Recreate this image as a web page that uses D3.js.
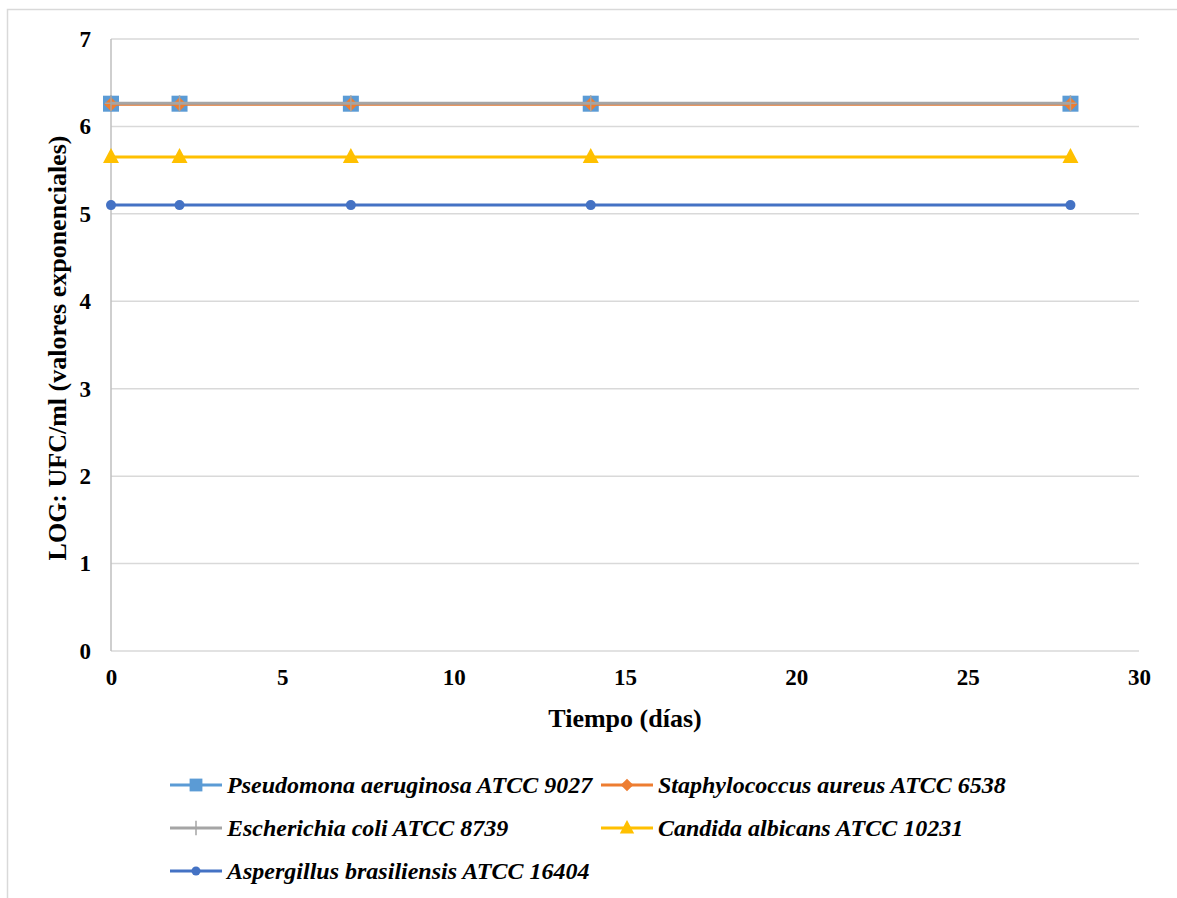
<!DOCTYPE html>
<html><head><meta charset="utf-8">
<script src="https://cdn.jsdelivr.net/npm/d3@7"></script>
<style>body{margin:0;background:#fff}svg{display:block}</style>
</head><body>
<svg id="c" width="1177" height="898"></svg>
<script>
const days = [0, 2, 7, 14, 28];
const pseudomona = [6.26, 6.26, 6.26, 6.26, 6.26];
const staphylococcus = [6.255, 6.255, 6.255, 6.255, 6.255];
const escherichia = [6.265, 6.265, 6.265, 6.265, 6.265];
const candida = [5.65, 5.65, 5.65, 5.65, 5.65];
const aspergillus = [5.10, 5.10, 5.10, 5.10, 5.10];
const xTicks = [0, 5, 10, 15, 20, 25, 30];
const yTicks = [0, 1, 2, 3, 4, 5, 6, 7];
const seriesNames = ["Pseudomona aeruginosa ATCC 9027", "Staphylococcus aureus ATCC 6538",
  "Escherichia coli ATCC 8739", "Candida albicans ATCC 10231", "Aspergillus brasiliensis ATCC 16404"];
const seriesValues = [pseudomona, staphylococcus, escherichia, candida, aspergillus];
const colors = ["#5b9bd5", "#ed7d31", "#a5a5a5", "#ffc000", "#4472c4"];
const markers = ["square", "diamond", "plus", "triangle", "circle"];

const svg = d3.select("#c");
const font = "'Liberation Serif','Times New Roman',serif";
svg.append("rect").attr("x", 7.5).attr("y", 9.5).attr("width", 1200).attr("height", 1000)
  .attr("fill", "#fff").attr("stroke", "#d9d9d9").attr("stroke-width", 1.5);

const x = d3.scaleLinear().domain([0, 30]).range([111, 1139]);
const y = d3.scaleLinear().domain([0, 7]).range([651, 39]);

svg.append("g").selectAll("line").data(yTicks).join("line")
  .attr("x1", x(0)).attr("x2", x(30)).attr("y1", d => y(d)).attr("y2", d => y(d))
  .attr("stroke", "#d9d9d9").attr("stroke-width", 1.5);
svg.append("line").attr("x1", x(0)).attr("x2", x(0)).attr("y1", y(0)).attr("y2", y(7))
  .attr("stroke", "#bfbfbf").attr("stroke-width", 1.5);

const yAxis = svg.append("g").attr("transform", `translate(${x(0)},0)`)
  .call(d3.axisLeft(y).tickValues(yTicks).tickFormat(d3.format("d")).tickSize(0).tickPadding(20));
yAxis.select(".domain").remove();
yAxis.selectAll("text").attr("font-family", font).attr("font-weight", "bold").attr("font-size", 23).attr("fill", "#000");

const xAxis = svg.append("g").attr("transform", `translate(0,${y(0)})`)
  .call(d3.axisBottom(x).tickValues(xTicks).tickFormat(d3.format("d")).tickSize(0).tickPadding(18));
xAxis.select(".domain").remove();
xAxis.selectAll("text").attr("font-family", font).attr("font-weight", "bold").attr("font-size", 23).attr("fill", "#000");

svg.append("text").attr("x", 625).attr("y", 727).attr("text-anchor", "middle")
  .attr("font-family", font).attr("font-weight", "bold").attr("font-size", 26).text("Tiempo (días)");
svg.append("text").attr("transform", `translate(66,348) rotate(-90)`).attr("text-anchor", "middle")
  .attr("font-family", font).attr("font-weight", "bold").attr("font-size", 26).text("LOG: UFC/ml (valores exponenciales)");

function drawMarker(g, type, cx, cy, color, scale) {
  const s = scale || 1;
  if (type === "square") g.append("rect").attr("x", cx - 8 * s).attr("y", cy - 8 * s).attr("width", 16 * s).attr("height", 16 * s).attr("fill", color);
  else if (type === "diamond") g.append("path").attr("d", `M${cx},${cy - 7 * s}L${cx + 7 * s},${cy}L${cx},${cy + 7 * s}L${cx - 7 * s},${cy}Z`).attr("fill", color);
  else if (type === "plus") g.append("path").attr("d", `M${cx - 6 * s},${cy}H${cx + 6 * s}M${cx},${cy - 8 * s}V${cy + 8 * s}`).attr("stroke", color).attr("stroke-width", 1.5);
  else if (type === "triangle") g.append("path").attr("d", `M${cx},${cy - 9 * s}L${cx + 8 * s},${cy + 6 * s}L${cx - 8 * s},${cy + 6 * s}Z`).attr("fill", color);
  else if (type === "circle") g.append("circle").attr("cx", cx).attr("cy", cy).attr("r", 5 * s).attr("fill", color);
}

const line = d3.line().x(d => x(d[0])).y(d => y(d[1]));
[0, 1, 2, 3, 4].forEach(i => {
  const g = svg.append("g");
  const pts = days.map((d, j) => [d, seriesValues[i][j]]);
  g.append("path").datum(pts).attr("d", line).attr("fill", "none").attr("stroke", colors[i]).attr("stroke-width", 3);
  pts.forEach(p => drawMarker(g, markers[i], x(p[0]), y(p[1]), colors[i]));
});

const legendPos = [[170, 785], [601, 785], [170, 828], [601, 828], [170, 871]];
seriesNames.forEach((name, i) => {
  const [lx, ly] = legendPos[i];
  const g = svg.append("g");
  g.append("line").attr("x1", lx).attr("x2", lx + 52).attr("y1", ly).attr("y2", ly).attr("stroke", colors[i]).attr("stroke-width", 3);
  drawMarker(g, markers[i], lx + 26, ly, colors[i], markers[i] === "square" ? 0.8 : 0.9);
  g.append("text").attr("x", lx + 57).attr("y", ly + 8).attr("font-family", font).attr("font-weight", "bold")
    .attr("font-style", "italic").attr("font-size", 24).text(name);
});
</script>
</body></html>
